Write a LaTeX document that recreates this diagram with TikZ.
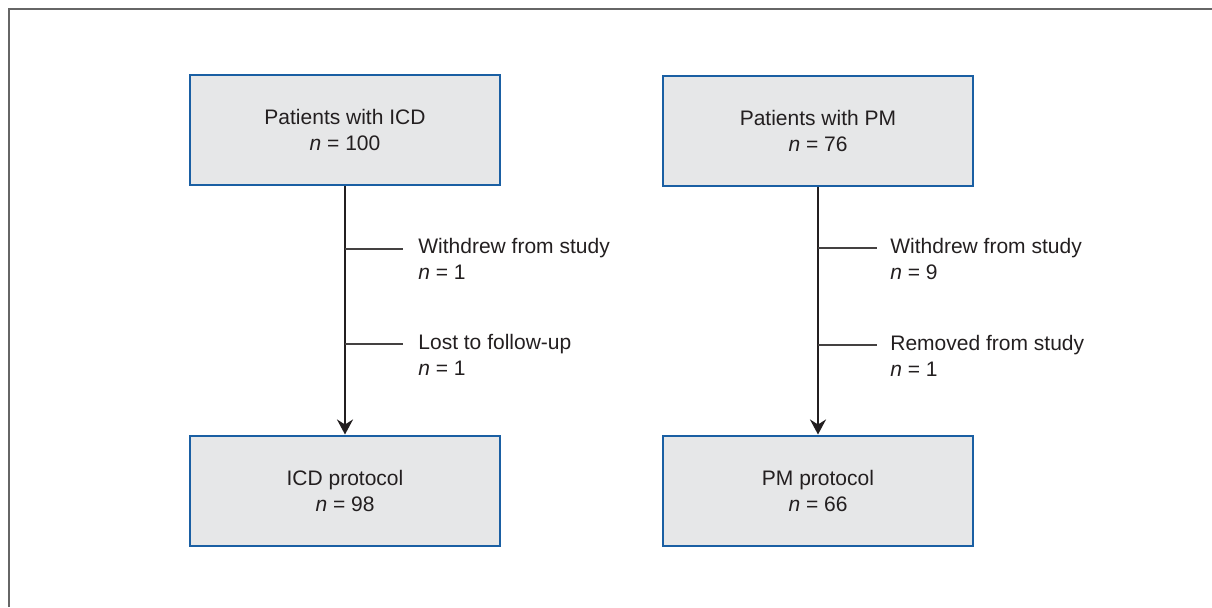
\documentclass[tikz,border=0pt]{standalone}
\usepackage{fontspec}
\setmainfont{Liberation Sans}
\usetikzlibrary{arrows.meta}

\definecolor{boxblue}{HTML}{1A5FA3}
\definecolor{boxfill}{HTML}{E6E7E8}
\definecolor{framegray}{HTML}{666666}
\definecolor{inkdark}{HTML}{231F20}

\tikzset{
	stage/.style={draw=boxblue, line width=1pt, fill=boxfill,
		minimum width=155pt, minimum height=55pt, inner sep=0pt,
		align=center, text=inkdark, font=\fontsize{10.5}{13}\selectfont},
	exclusion/.style={anchor=west, align=left, inner sep=0pt,
		text=inkdark, font=\fontsize{10.5}{13}\selectfont},
	flow/.style={line width=1.2pt, draw=inkdark,
		-{Stealth[length=7.5pt,width=8pt,inset=2.5pt]}},
	branch/.style={line width=0.6pt, draw=inkdark!85}
}

\begin{document}
\begin{tikzpicture}[x=0.5pt,y=-0.5pt]
		\useasboundingbox (0,0) rectangle (1212,607);
%		\draw[help lines,step=50] (0,0) grid (1212,607);
		\draw[framegray, line width=1.1pt] (9,607) -- (9,9) -- (1212,9);

		\path (345,249) coordinate (icd_wd);
		\path (403,249) coordinate (icd_wd_end);
		\path (345,344) coordinate (icd_lost);
		\path (403,344) coordinate (icd_lost_end);
		\path (818,248) coordinate (pm_wd);
		\path (877,248) coordinate (pm_wd_end);
		\path (818,345) coordinate (pm_rm);
		\path (877,345) coordinate (pm_rm_end);

		\node[stage] (icd) at (345,130) {Patients with ICD\\\textit{n} = 100};
		\node[stage] (icdprot) at (345,490.5) {ICD protocol\\\textit{n} = 98};
		\node[stage] (pm) at (818,130.5) {Patients with PM\\\textit{n} = 76};
		\node[stage] (pmprot) at (818,490.5) {PM protocol\\\textit{n} = 66};

		\draw[flow] (icd) -- (icdprot);
		\draw[flow] (pm) -- (pmprot);

		\draw[branch] (icd_wd) -- (icd_wd_end);
		\node[exclusion] (icdwd) at (418,258.5) {Withdrew from study\\\textit{n} = 1};
		\draw[branch] (icd_lost) -- (icd_lost_end);
		\node[exclusion] (icdlost) at (418,355) {Lost to follow-up\\\textit{n} = 1};

		\draw[branch] (pm_wd) -- (pm_wd_end);
		\node[exclusion] (pmwd) at (890,259) {Withdrew from study\\\textit{n} = 9};
		\draw[branch] (pm_rm) -- (pm_rm_end);
		\node[exclusion] (pmrm) at (890,356) {Removed from study\\\textit{n} = 1};
	\end{tikzpicture}
\end{document}
